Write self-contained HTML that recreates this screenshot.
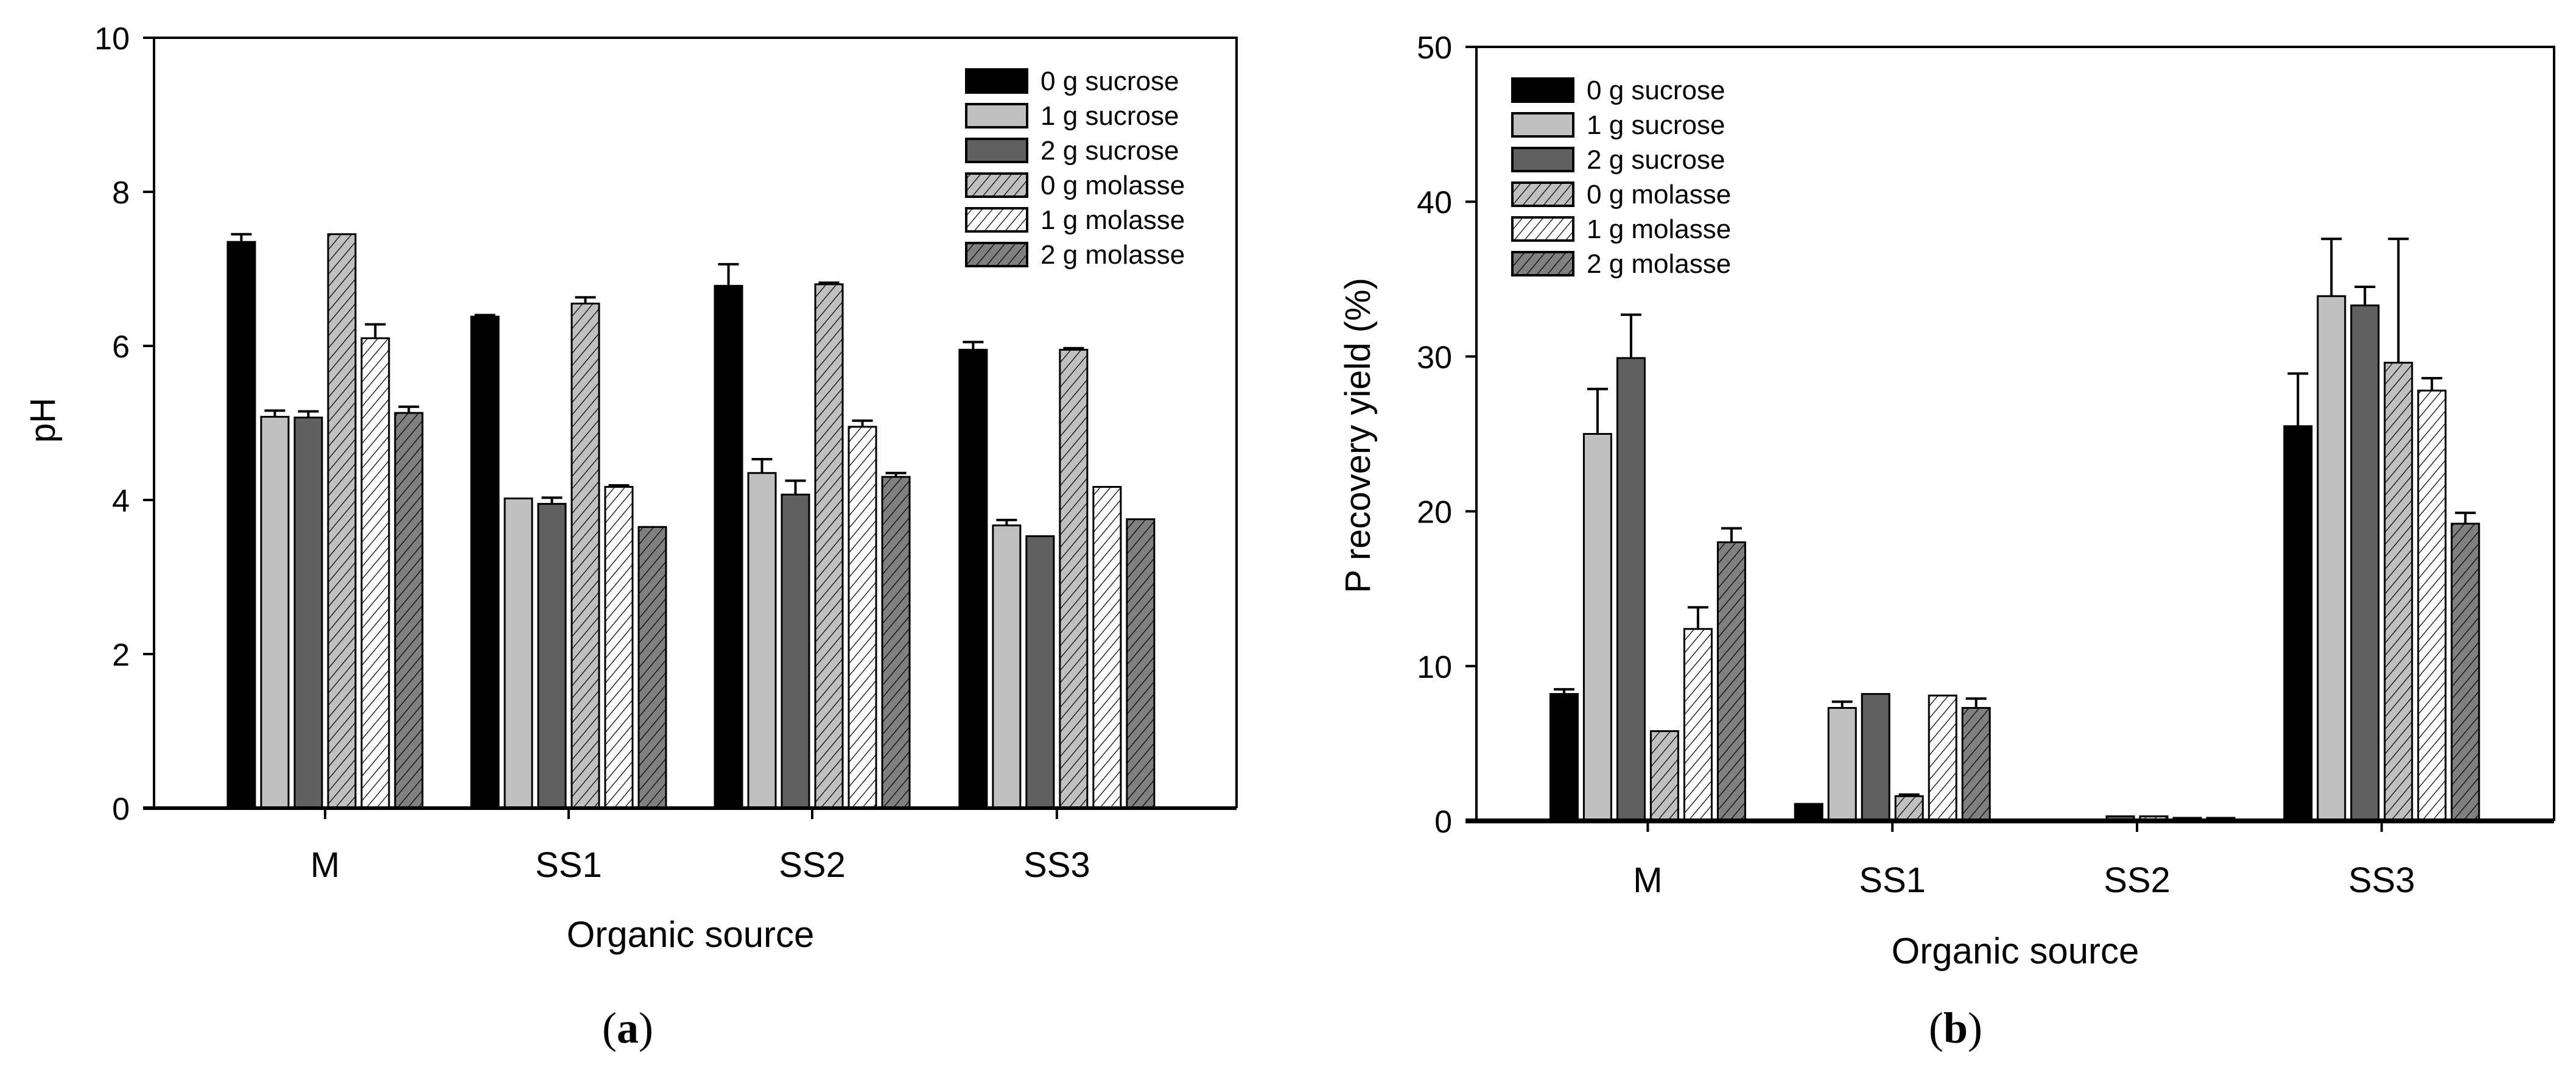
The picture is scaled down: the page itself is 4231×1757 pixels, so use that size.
<!DOCTYPE html>
<html><head><meta charset="utf-8"><style>
html,body{margin:0;padding:0;background:#fff;}
svg{display:block;font-family:"Liberation Sans",Arial,sans-serif;}
</style></head><body>
<svg id="svg" width="4231" height="1757" viewBox="0 0 4231 1757" xmlns="http://www.w3.org/2000/svg">
<defs>
<pattern id="hatch-light" patternUnits="userSpaceOnUse" width="13" height="13" patternTransform="rotate(40)"><rect width="13" height="13" fill="#c0c0c0"/><line x1="0" y1="0" x2="0" y2="13" stroke="#000" stroke-width="2.5"/></pattern>
<pattern id="hatch-white" patternUnits="userSpaceOnUse" width="13" height="13" patternTransform="rotate(40)"><rect width="13" height="13" fill="#fff"/><line x1="0" y1="0" x2="0" y2="13" stroke="#000" stroke-width="2.5"/></pattern>
<pattern id="hatch-dark" patternUnits="userSpaceOnUse" width="13" height="13" patternTransform="rotate(40)"><rect width="13" height="13" fill="#808080"/><line x1="0" y1="0" x2="0" y2="13" stroke="#000" stroke-width="2.5"/></pattern>
</defs>
</svg>
<script>
const categories = ["M","SS1","SS2","SS3"];
const seriesNames = ["0 g sucrose","1 g sucrose","2 g sucrose","0 g molasse","1 g molasse","2 g molasse"];
// pH values per series (across categories)
const phS0 = [7.35,6.38,6.78,5.95];
const phS1 = [5.08,4.02,4.35,3.67];
const phS2 = [5.07,3.95,4.07,3.53];
const phM0 = [7.45,6.55,6.80,5.95];
const phM1 = [6.10,4.17,4.95,4.17];
const phM2 = [5.13,3.65,4.30,3.75];
const phErrS0 = [0.10,0.02,0.28,0.10];
const phErrS1 = [0.08,0.00,0.18,0.07];
const phErrS2 = [0.08,0.08,0.18,0.00];
const phErrM0 = [0.00,0.08,0.02,0.02];
const phErrM1 = [0.18,0.02,0.08,0.00];
const phErrM2 = [0.08,0.00,0.05,0.00];
// P recovery yield values
const pyS0 = [8.2,1.1,0.0,25.5];
const pyS1 = [25.0,7.3,0.05,33.9];
const pyS2 = [29.9,8.2,0.3,33.3];
const pyM0 = [5.8,1.6,0.3,29.6];
const pyM1 = [12.4,8.1,0.2,27.8];
const pyM2 = [18.0,7.3,0.2,19.2];
const pyErrS0 = [0.3,0.0,0.0,3.4];
const pyErrS1 = [2.9,0.4,0.0,3.7];
const pyErrS2 = [2.8,0.0,0.0,1.2];
const pyErrM0 = [0.0,0.1,0.0,8.0];
const pyErrM1 = [1.4,0.0,0.0,0.8];
const pyErrM2 = [0.9,0.6,0.0,0.7];
const phTicks = [0,2,4,6,8,10];
const pyTicks = [0,10,20,30,40,50];

const NS="http://www.w3.org/2000/svg";
const svg=document.getElementById('svg');
const fills=["#000","#c0c0c0","#606060","url(#hatch-light)","url(#hatch-white)","url(#hatch-dark)"];
function el(tag,attrs,parent){const e=document.createElementNS(NS,tag);for(const k in attrs)e.setAttribute(k,attrs[k]);(parent||svg).appendChild(e);return e;}

function chart(cfg){
  const g=el('g',{});
  
  
  const L=cfg.x0,R=cfg.x1,T=cfg.y0,B=cfg.y1;
  const yS=v=>B-(v-cfg.min)/(cfg.max-cfg.min)*(B-T);
  const xS=i=>L+(R-L)*cfg.catFrac[i];
  const pitch=55,bw=45;
  cfg.series.forEach((vals,s)=>{
    vals.forEach((v,i)=>{
      const cx=xS(i)+(s-2.5)*pitch;
      const top=yS(v);
      const e=cfg.errs[s][i];
      if(e>0){
        const et=yS(v+e);
        const eb=el('path',{d:`M${cx} ${top} V${et} M${cx-17} ${et} H${cx+17}`,stroke:'#000','stroke-width':4,fill:'none'},g);
        
        
      }
      if(v>0){
        const r=el('rect',{x:cx-bw/2,y:top,width:bw,height:B-top,fill:fills[s],stroke:'#000','stroke-width':3},g);
        
        
      }
    });
  });
  const fr=el('path',{d:`M${L} ${B} V${T} H${R} V${B}`,stroke:'#000','stroke-width':4,fill:'none'},g);
  
  
  const xa=el('line',{x1:L-18,y1:B,x2:R,y2:B,stroke:'#000','stroke-width':cfg.xAxisW},g);
  
  
  cfg.ticks.forEach(t=>{
    const y=yS(t);
    el('line',{x1:L-18,y1:y,x2:L,y2:y,stroke:'#000','stroke-width':4},g);
    const tx=el('text',{x:L-40,y:y+19,'text-anchor':'end','font-size':52,fill:'#000'},g);
    tx.textContent=t;
    
    
  });
  categories.forEach((c,i)=>{
    const x=xS(i);
    el('line',{x1:x,y1:B,x2:x,y2:B+18,stroke:'#000','stroke-width':4},g);
    const tx=el('text',{x:x,y:cfg.catY,'text-anchor':'middle','font-size':58,fill:'#000'},g);
    tx.textContent=c;
    
    
  });
  const xt=el('text',{x:cfg.titleX,y:cfg.titleY,'text-anchor':'middle','font-size':60,fill:'#000'},g);
  xt.textContent='Organic source';
  
  
  const yt=el('text',{x:0,y:0,'text-anchor':'middle','font-size':58,fill:'#000',transform:`translate(${cfg.yTitleX},${cfg.yTitleY}) rotate(-90)`},g);
  yt.textContent=cfg.yTitle;
  
  
  const lg=el('g',{},g);
  
  
  seriesNames.forEach((n,s)=>{
    const y=cfg.legY+s*57;
    el('rect',{x:cfg.legX,y:y-19,width:100,height:38,fill:fills[s],stroke:'#000','stroke-width':4},lg);
    const t=el('text',{x:cfg.legX+122,y:y+15,'font-size':44,fill:'#000'},lg);
    t.textContent=n;
    
    
  });
  const lab=el('text',{x:cfg.labelX,y:1712,'text-anchor':'middle','font-size':72,'font-family':'Liberation Serif, serif',fill:'#000'},g);
  lab.innerHTML='(<tspan font-weight="bold">'+cfg.label+'</tspan>)';
  
  
}

chart({name:'ph-chart',x0:253,x1:2031,y0:62,y1:1327,min:0,max:10,ticks:phTicks,
  catFrac:[0.158,0.383,0.608,0.834],
  series:[phS0,phS1,phS2,phM0,phM1,phM2],
  errs:[phErrS0,phErrS1,phErrS2,phErrM0,phErrM1,phErrM2],
  xAxisW:6,catY:1440,titleX:1134,titleY:1555,yTitle:'pH',yTitleX:90,yTitleY:690,legX:1587,legY:133,label:'a',labelX:1031});
chart({name:'p-recovery-chart',x0:2425,x1:4195,y0:77,y1:1348,min:0,max:50,ticks:pyTicks,
  catFrac:[0.159,0.386,0.613,0.840],
  series:[pyS0,pyS1,pyS2,pyM0,pyM1,pyM2],
  errs:[pyErrS0,pyErrS1,pyErrS2,pyErrM0,pyErrM1,pyErrM2],
  xAxisW:8,catY:1465,titleX:3310,titleY:1582,yTitle:'P recovery yield (%)',yTitleX:2250,yTitleY:715,legX:2484,legY:148,label:'b',labelX:3212});
</script>
</body></html>
